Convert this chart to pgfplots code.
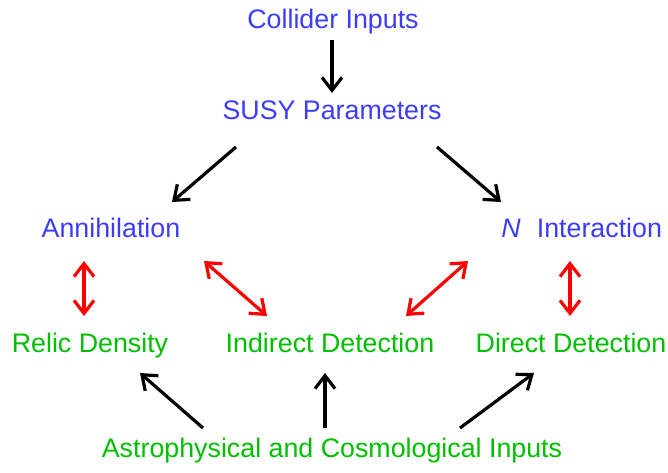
\documentclass[border=0pt]{standalone}
\usepackage{pgfplots}
\pgfplotsset{compat=1.18}
\usepackage{fontspec}
\setmainfont{Liberation Sans}
\usetikzlibrary{arrows.meta}
\definecolor{tblue}{RGB}{60,60,255}
\definecolor{tgreen}{RGB}{0,190,0}
\definecolor{tred}{RGB}{255,0,0}
\begin{document}
\begin{tikzpicture}
\begin{axis}[
  width=334pt, height=236pt, scale only axis,
  xmin=0, xmax=668, ymin=0, ymax=472,
  axis line style={draw=none}, ticks=none, clip=false,
  every axis plot/.append style={line width=1.6pt},
]
\tikzset{blk/.style={black, -{Straight Barb[length=6.5pt,width=10pt]}},
         rd/.style={tred, {Straight Barb[length=6.5pt,width=10pt]}-{Straight Barb[length=6.5pt,width=10pt]}}}
% black arrows
\addplot[blk] coordinates {(332,432) (332,379)};
\addplot[blk] coordinates {(236,325) (172,270)};
\addplot[blk] coordinates {(437,325) (501,270)};
\addplot[blk] coordinates {(203,44) (140,99)};
\addplot[blk] coordinates {(325,44) (325,99)};
\addplot[blk] coordinates {(460,44) (534,99)};
% red double arrows
\addplot[rd] coordinates {(84,211) (84,156)};
\addplot[rd] coordinates {(204,211) (267,156)};
\addplot[rd] coordinates {(468,211) (406,156)};
\addplot[rd] coordinates {(570,211) (570,156)};
% labels
\tikzset{lbl/.style={font=\fontsize{13.4}{15}\selectfont, inner sep=0pt}}
\node[lbl, tblue, anchor=base] at (axis cs:333,443) {Collider Inputs};
\node[lbl, tblue, anchor=base] at (axis cs:332,352) {SUSY Parameters};
\node[lbl, tblue, anchor=base] at (axis cs:111,235) {Annihilation};
\node[lbl, tblue, anchor=base west] at (axis cs:501,235) {\textit{N}\hspace{0.6em}Interaction};
\node[lbl, tgreen, anchor=base] at (axis cs:90,120) {Relic Density};
\node[lbl, tgreen, anchor=base] at (axis cs:330,120) {Indirect Detection};
\node[lbl, tgreen, anchor=base] at (axis cs:571,120) {Direct Detection};
\node[lbl, tgreen, anchor=base] at (axis cs:332,15) {Astrophysical and Cosmological Inputs};
\end{axis}
\end{tikzpicture}
\end{document}
